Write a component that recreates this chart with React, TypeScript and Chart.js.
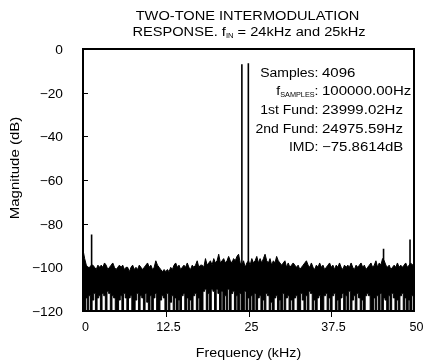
import React, { useEffect, useRef } from "react";
import { Chart, registerables } from "chart.js";

Chart.register(...registerables);

const FONT = '"Liberation Sans", Arial, Helvetica, sans-serif';

// ---- text ----
const titleLine1 = "TWO-TONE INTERMODULATION";
const titleLine2 = ["RESPONSE. f", "IN", " = 24kHz and 25kHz"];
const xAxisTitle = "Frequency (kHz)";
const yAxisTitle = "Magnitude (dB)";

// ---- ticks ----
const xTickValues = [0, 12.5, 25, 37.5, 50];
const xTickLabels = ["0", "12.5", "25", "37.5", "50"];
const yTickValues = [0, -20, -40, -60, -80, -100, -120];
const yTickLabels = ["0", "\u221220", "\u221240", "\u221260", "\u221280", "\u2212100", "\u2212120"];

// ---- info box ----
const infoLabels = ["Samples", "f", "1st Fund", "2nd Fund", "IMD"];
const infoSubs = ["", "SAMPLES", "", "", ""];
const infoValues = ["4096", "100000.00Hz", "23999.02Hz", "24975.59Hz", "\u221275.8614dB"];

// ---- spectrum ----
const binKHz = 0.25; // spacing of the envelope readings
// upper edge of the noise floor (dB), 0 .. 50 kHz every 0.25 kHz
const noiseTop = [
  -92, -96, -99, -100,
  -100, -99, -99, -100,
  -101, -99, -100, -99,
  -100, -98, -99, -101,
  -100, -99, -98, -100,
  -101, -100, -99, -100,
  -99, -101, -100, -100,
  -102, -100, -99, -101,
  -100, -101, -99, -100,
  -101, -100, -99, -98,
  -100, -99, -101, -100,
  -97, -99, -100, -101,
  -102, -101, -102, -101,
  -102, -100, -101, -99,
  -98, -100, -99, -101,
  -100, -99, -100, -98,
  -100, -101, -99, -100,
  -99, -97, -100, -99,
  -99, -100, -96, -99,
  -98, -97, -99, -96,
  -98, -97, -94, -98,
  -97, -96, -98, -97,
  -95, -97, -98, -96,
  -97, -95, -94, -98,
  -99, -97, -100, -98,
  -97, -99, -96, -98,
  -97, -95, -98, -96,
  -98, -96, -94, -97,
  -98, -96, -99, -97,
  -98, -95, -97, -98,
  -99, -98, -97, -100,
  -98, -100, -99, -98,
  -99, -100, -99, -101,
  -100, -99, -98, -97,
  -99, -100, -98, -100,
  -101, -99, -100, -98,
  -100, -99, -101, -100,
  -99, -98, -100, -99,
  -101, -99, -100, -98,
  -100, -101, -99, -100,
  -99, -100, -98, -100,
  -101, -99, -100, -99,
  -98, -100, -99, -101,
  -100, -99, -98, -100,
  -99, -97, -100, -98,
  -99, -96, -97, -99,
  -100, -99, -101, -100,
  -99, -100, -98, -100,
  -99, -100, -99, -98,
  -100, -99, -98, -99,
  -98,
];
// lower edge of the noise floor (dB)
const noiseBottom = [
  -120, -120, -114, -120,
  -113, -120, -115, -112,
  -120, -114, -113, -120,
  -112, -113, -120, -111,
  -112, -120, -113, -114,
  -120, -120, -115, -113,
  -120, -112, -114, -120,
  -114, -113, -120, -120,
  -115, -112, -120, -113,
  -114, -120, -112, -116,
  -120, -113, -120, -114,
  -112, -120, -120, -115,
  -113, -114, -120, -112,
  -120, -116, -113, -120,
  -114, -120, -115, -120,
  -113, -112, -120, -114,
  -120, -115, -120, -113,
  -112, -120, -114, -120,
  -120, -111, -110, -120,
  -112, -120, -110, -111,
  -120, -110, -112, -120,
  -111, -120, -113, -120,
  -110, -120, -112, -111,
  -120, -113, -120, -112,
  -120, -120, -111, -120,
  -114, -120, -113, -120,
  -112, -120, -114, -113,
  -120, -115, -120, -112,
  -113, -120, -116, -120,
  -114, -113, -120, -115,
  -120, -112, -120, -114,
  -113, -120, -115, -120,
  -114, -113, -120, -120,
  -112, -115, -120, -113,
  -120, -111, -112, -120,
  -115, -120, -114, -113,
  -120, -120, -113, -112,
  -120, -114, -120, -113,
  -112, -120, -115, -120,
  -114, -112, -120, -113,
  -120, -111, -120, -115,
  -113, -120, -112, -114,
  -120, -115, -120, -113,
  -112, -113, -120, -120,
  -114, -120, -113, -120,
  -112, -120, -114, -115,
  -120, -113, -120, -112,
  -114, -120, -115, -120,
  -113, -112, -120, -114,
  -120, -115, -120, -113,
  -120,
];
// the two input tones
const toneFreqs = [23.999, 24.976];
const toneLevels = [-7, -6.5];
// isolated spurs rising out of the floor
const spurFreqs = [1.3, 45.4, 49.4];
const spurLevels = [-85, -91.5, -87.3];
const spikeBase = -101;

type Run = { text: string; size: number; dy?: number };

function drawRuns(
  ctx: CanvasRenderingContext2D,
  runs: Run[],
  x: number,
  y: number,
  align: "left" | "center" | "right",
  sx: number
) {
  let w = 0;
  const widths: number[] = [];
  for (const r of runs) {
    ctx.font = `${r.size}px ${FONT}`;
    const m = ctx.measureText(r.text).width;
    widths.push(m);
    w += m;
  }
  const total = w * sx;
  const start = align === "left" ? x : align === "center" ? x - total / 2 : x - total;
  ctx.save();
  ctx.translate(start, y);
  ctx.scale(sx, 1);
  ctx.textAlign = "left";
  ctx.textBaseline = "alphabetic";
  ctx.fillStyle = "#000";
  let cx = 0;
  runs.forEach((r, i) => {
    ctx.font = `${r.size}px ${FONT}`;
    ctx.fillText(r.text, cx, r.dy || 0);
    cx += widths[i];
  });
  ctx.restore();
}

const decorPlugin = {
  id: "decor",
  afterDraw(chart: any) {
    const ctx: CanvasRenderingContext2D = chart.ctx;
    const { left, right, top, bottom } = chart.chartArea;
    const xs = chart.scales.x;
    const ys = chart.scales.y;
    ctx.save();
    // frame
    ctx.strokeStyle = "#000";
    ctx.lineWidth = 2;
    ctx.strokeRect(left, top, right - left, bottom - top);
    // y ticks (inside) and labels
    ctx.lineWidth = 1;
    yTickValues.forEach((v, i) => {
      const py = Math.round(ys.getPixelForValue(v)) + 0.5;
      if (i > 0 && i < yTickValues.length - 1) {
        ctx.beginPath();
        ctx.moveTo(left, py);
        ctx.lineTo(left + 5, py);
        ctx.stroke();
      }
      drawRuns(ctx, [{ text: yTickLabels[i], size: 12.5 }], left - 20, py + 4.5, "right", 1.1);
    });
    // x ticks (outside) and labels
    xTickValues.forEach((v, i) => {
      const px = Math.round(xs.getPixelForValue(v)) + 0.5;
      if (i > 0 && i < xTickValues.length - 1) {
        ctx.beginPath();
        ctx.moveTo(px, bottom);
        ctx.lineTo(px, bottom + 6);
        ctx.stroke();
      }
      drawRuns(ctx, [{ text: xTickLabels[i], size: 12.5 }], px + 2, 331, "center", 1.0);
    });
    // axis titles
    drawRuns(ctx, [{ text: xAxisTitle, size: 12.5 }], (left + right) / 2, 357, "center", 1.14);
    ctx.save();
    ctx.translate(18.5, 168);
    ctx.rotate(-Math.PI / 2);
    drawRuns(ctx, [{ text: yAxisTitle, size: 12.5 }], 0, 0, "center", 1.2);
    ctx.restore();
    // title
    drawRuns(ctx, [{ text: titleLine1, size: 12.5 }], 247.5, 20, "center", 1.17);
    drawRuns(
      ctx,
      [
        { text: titleLine2[0], size: 12.5 },
        { text: titleLine2[1], size: 6.5, dy: 1.5 },
        { text: titleLine2[2], size: 12.5 },
      ],
      249,
      36,
      "center",
      1.17
    );
    // info box
    const colonX = 318.5;
    const valX = 322;
    infoLabels.forEach((lab, i) => {
      const by = 76.7 + i * 18.6;
      const runs: Run[] = [{ text: lab, size: 12.5 }];
      if (infoSubs[i]) runs.push({ text: infoSubs[i], size: 6.5, dy: 2 });
      runs.push({ text: ":", size: 12.5 });
      drawRuns(ctx, runs, colonX, by, "right", 1.12);
      drawRuns(ctx, [{ text: infoValues[i], size: 12.5 }], valX, by, "left", 1.2);
    });
    ctx.restore();
  },
};

export default function App() {
  const ref = useRef<HTMLCanvasElement | null>(null);
  useEffect(() => {
    if (!ref.current) return;
    const topPts = noiseTop.map((y, i) => ({ x: i * binKHz, y }));
    const bottomPts = noiseBottom.map((y, i) => ({ x: i * binKHz, y }));
    const spikePts: any[] = [];
    toneFreqs.forEach((f, i) => {
      spikePts.push({ x: f, y: spikeBase }, { x: f, y: toneLevels[i] }, { x: f, y: null });
    });
    spurFreqs.forEach((f, i) => {
      spikePts.push({ x: f, y: spikeBase }, { x: f, y: spurLevels[i] }, { x: f, y: null });
    });
    const chart = new Chart(ref.current, {
      type: "line",
      data: {
        datasets: [
          {
            data: topPts,
            borderColor: "#000",
            borderWidth: 1,
            pointRadius: 0,
            tension: 0,
            fill: false,
          },
          {
            data: bottomPts,
            borderColor: "#000",
            borderWidth: 1,
            pointRadius: 0,
            tension: 0,
            stepped: "middle",
            fill: "-1",
            backgroundColor: "#000",
          },
          {
            data: spikePts,
            borderColor: "#000",
            borderWidth: 1.6,
            pointRadius: 0,
            tension: 0,
            spanGaps: false,
            fill: false,
          },
        ],
      },
      options: {
        animation: false,
        responsive: false,
        events: [],
        layout: { padding: { left: 83, right: 9, top: 49, bottom: 52 } },
        plugins: {
          legend: { display: false },
          title: { display: false },
          tooltip: { enabled: false },
        },
        scales: {
          x: {
            type: "linear",
            min: 0,
            max: 50,
            afterBuildTicks: (s: any) => {
              s.ticks = xTickValues.map((value) => ({ value }));
            },
            ticks: { display: false },
            grid: { display: false, drawTicks: false },
            border: { display: false },
          },
          y: {
            type: "linear",
            min: -120,
            max: 0,
            afterBuildTicks: (s: any) => {
              s.ticks = yTickValues.map((value) => ({ value }));
            },
            ticks: { display: false },
            grid: { display: false, drawTicks: false },
            border: { display: false },
          },
        },
      },
      plugins: [decorPlugin],
    });
    return () => chart.destroy();
  }, []);
  return (
    <div style={{ position: "fixed", left: 0, top: 0, width: 423, height: 363, background: "#fff" }}>
      <canvas ref={ref} width={423} height={363} style={{ display: "block", width: 423, height: 363 }} />
    </div>
  );
}
